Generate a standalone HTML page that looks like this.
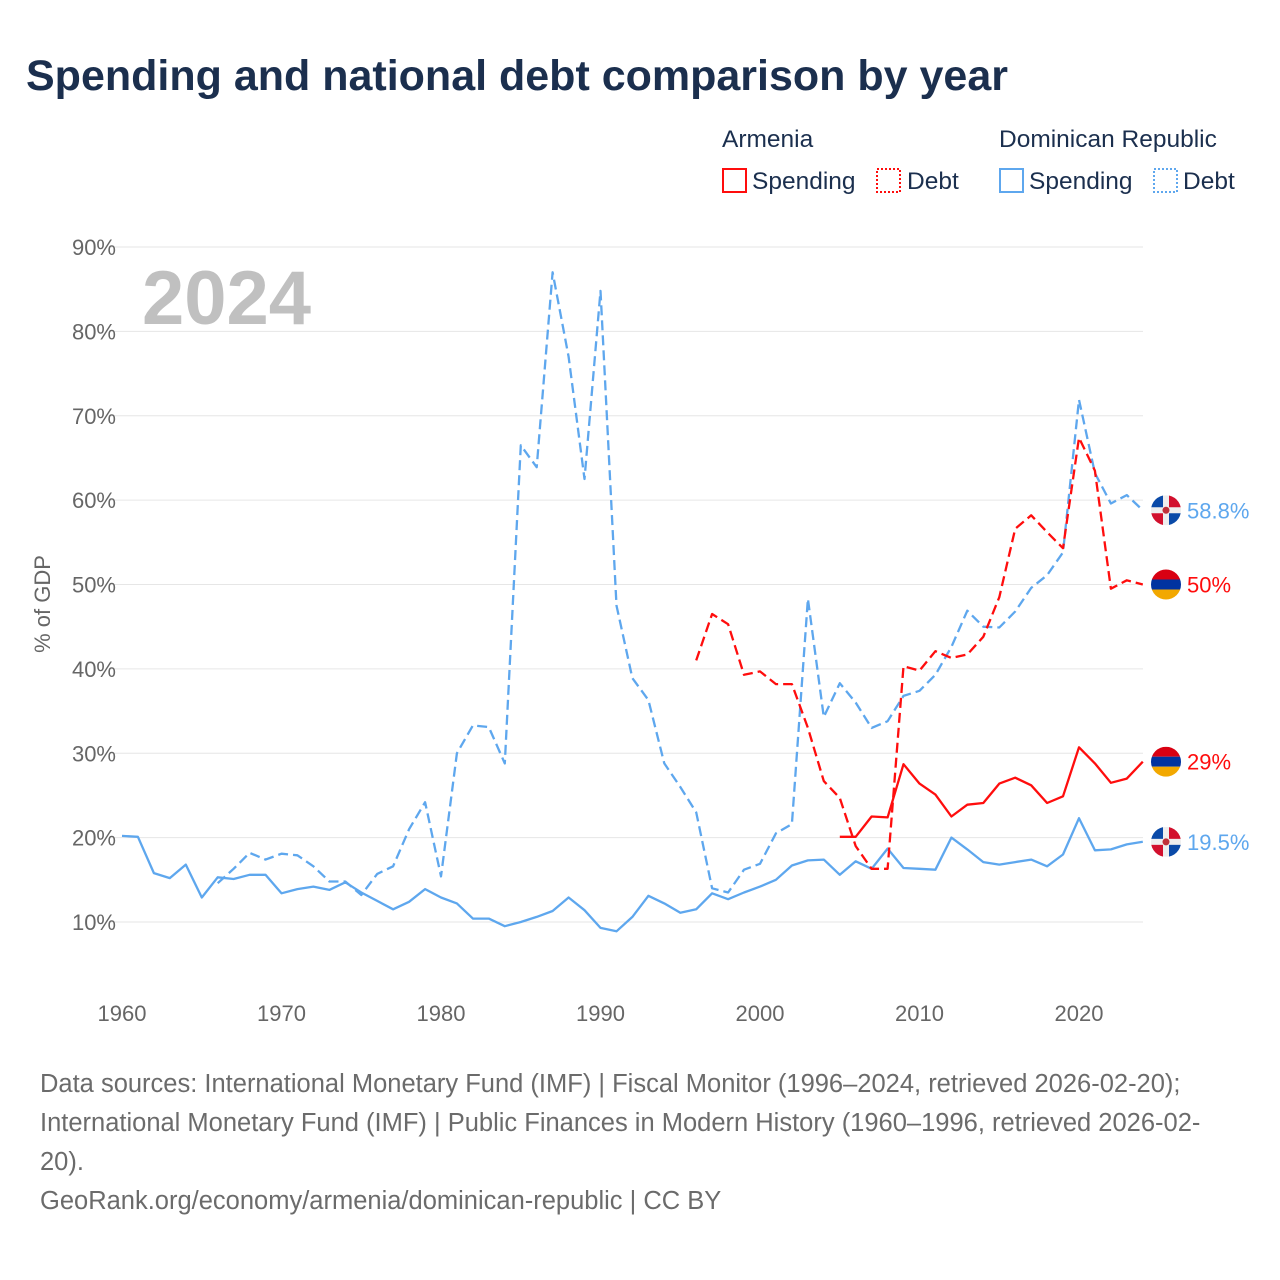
<!DOCTYPE html>
<html><head><meta charset="utf-8"><style>
body{margin:0;background:#fff;font-family:"Liberation Sans",sans-serif;}
#wrap{position:relative;width:1280px;height:1280px;overflow:hidden;}
.t{position:absolute;white-space:nowrap;}
</style></head><body>
<div id="wrap">
<div class="t" style="left:26px;top:52px;font-size:43px;font-weight:bold;color:#1b2f4e;">Spending and national debt comparison by year</div>
<svg id="chart" width="1280" height="1280" style="position:absolute;left:0;top:0"></svg>
<div class="t" style="left:40px;top:1065px;font-size:25.5px;line-height:39px;color:#6b6b6b;width:1195px;white-space:normal;">Data sources: International Monetary Fund (IMF) | Fiscal Monitor (1996–2024, retrieved 2026-02-20); International Monetary Fund (IMF) | Public Finances in Modern History (1960–1996, retrieved 2026-02-20).<br>GeoRank.org/economy/armenia/dominican-republic | CC BY</div>
</div>
<script>
const years = [];
for (let y = 1960; y <= 2024; y++) years.push(y);
const drSpending = [20.2,20.1,15.8,15.2,16.8,12.9,15.3,15.1,15.6,15.6,13.4,13.9,14.2,13.8,14.7,13.5,12.5,11.5,12.4,13.9,12.9,12.2,10.4,10.4,9.5,10.0,10.6,11.3,12.9,11.4,9.3,8.9,10.6,13.1,12.2,11.1,11.5,13.4,12.7,13.5,14.2,15.0,16.7,17.3,17.4,15.6,17.2,16.3,18.7,16.4,16.3,16.2,20.0,18.6,17.1,16.8,17.1,17.4,16.6,18.0,22.3,18.5,18.6,19.2,19.5];
const drDebtStart = 1966;
const drDebt = [14.6,16.3,18.2,17.4,18.1,17.9,16.6,14.8,14.8,13.2,15.7,16.6,21.0,24.2,15.4,30.0,33.3,33.1,28.8,66.5,63.9,87.0,77.0,62.5,84.8,47.5,38.9,36.3,28.8,26.0,23.0,14.0,13.5,16.2,16.9,20.5,21.6,48.3,34.3,38.3,36.0,33.0,33.8,36.8,37.4,39.3,42.6,46.9,45.0,44.9,46.8,49.6,51.1,53.8,71.9,63.2,59.6,60.6,58.8];
const amDebtStart = 1996;
const amDebt = [41.0,46.5,45.3,39.3,39.7,38.2,38.2,33.0,26.7,24.7,19.0,16.3,16.3,40.3,39.8,42.1,41.3,41.7,43.8,48.5,56.6,58.2,56.2,54.3,67.4,63.5,49.5,50.5,50.0];
const amSpendStart = 2005;
const amSpending = [20.1,20.1,22.5,22.4,28.7,26.4,25.1,22.5,23.9,24.1,26.4,27.1,26.2,24.1,24.9,30.7,28.8,26.5,27.0,29.0];
const yTicks = [10,20,30,40,50,60,70,80,90];
const xTicks = [1960,1970,1980,1990,2000,2010,2020];

const RED = "#ff0d0d", BLUE = "#5ea7ee";
const svg = document.getElementById('chart');
const NS = "http://www.w3.org/2000/svg";
const X = yr => 122 + (yr - 1960) * 15.95;
const Y = v => 247 + (90 - v) * 8.4375;
function mk(tag, attrs, parent){const e=document.createElementNS(NS,tag);for(const k in attrs)e.setAttribute(k,attrs[k]);(parent||svg).appendChild(e);return e;}

yTicks.forEach(t=>{
  const g=mk('line',{x1:110,x2:1143,y1:Y(t),y2:Y(t),stroke:'#e6e6e6','stroke-width':1});
  
  
  const tx=mk('text',{x:116,y:Y(t)+8,'text-anchor':'end','font-size':22,fill:'#666','font-family':'Liberation Sans, sans-serif'});
  tx.textContent=t+'%';
  
  
});
xTicks.forEach(t=>{
  const tx=mk('text',{x:X(t),y:1021,'text-anchor':'middle','font-size':22,fill:'#666','font-family':'Liberation Sans, sans-serif'});
  tx.textContent=t;
  
  
});
const yt=mk('text',{x:0,y:0,transform:'translate(50,604) rotate(-90)','text-anchor':'middle','font-size':22,fill:'#666','font-family':'Liberation Sans, sans-serif'});
yt.textContent='% of GDP';


const yr=mk('text',{x:142,y:324,'font-size':76,'font-weight':'bold',fill:'#c0c0c0','font-family':'Liberation Sans, sans-serif'});
yr.textContent='2024';



function line(vals,start,color,dash,name){
  const pts=vals.map((v,i)=>X(start+i).toFixed(1)+','+Y(v).toFixed(1)).join(' ');
  const p=mk('polyline',{points:pts,fill:'none',stroke:color,'stroke-width':2.3,'stroke-linejoin':'round'});
  if(dash)p.setAttribute('stroke-dasharray','10,5');
  
  
}
line(drSpending,1960,BLUE,false,'dr-spending-line');
line(drDebt,drDebtStart,BLUE,true,'dr-debt-line');
line(amDebt,amDebtStart,RED,true,'armenia-debt-line');
line(amSpending,amSpendStart,RED,false,'armenia-spending-line');

function flagAM(cy,name){
  const g=mk('g',{});
  
  
  const cid='c'+Math.round(cy);
  const cp=mk('clipPath',{id:cid},g);mk('circle',{cx:1166,cy:cy,r:15},cp);
  const gg=mk('g',{'clip-path':'url(#'+cid+')'},g);
  mk('rect',{x:1151,y:cy-15,width:30,height:10,fill:'#d90012'},gg);
  mk('rect',{x:1151,y:cy-5,width:30,height:10,fill:'#0033a0'},gg);
  mk('rect',{x:1151,y:cy+5,width:30,height:10,fill:'#f2a800'},gg);
}
function flagDR(cy,name){
  const g=mk('g',{});
  
  
  const cid='d'+Math.round(cy);
  const cp=mk('clipPath',{id:cid},g);mk('circle',{cx:1166,cy:cy,r:15},cp);
  const gg=mk('g',{'clip-path':'url(#'+cid+')'},g);
  mk('rect',{x:1151,y:cy-15,width:30,height:30,fill:'#eee'},gg);
  mk('rect',{x:1151,y:cy-15,width:12,height:12,fill:'#0a4aa8'},gg);
  mk('rect',{x:1169,y:cy-15,width:12,height:12,fill:'#d2102d'},gg);
  mk('rect',{x:1151,y:cy+3,width:12,height:12,fill:'#d2102d'},gg);
  mk('rect',{x:1169,y:cy+3,width:12,height:12,fill:'#0a4aa8'},gg);
  mk('circle',{cx:1166,cy:cy,r:3.5,fill:'#c0303a'},gg);
}
function endLabel(v,color,txt,name){
  const t=mk('text',{x:1187,y:Y(v)+8,'font-size':22,fill:color,'font-family':'Liberation Sans, sans-serif'});
  t.textContent=txt;
  
  
}
const drDebtLast=drDebt[drDebt.length-1], amDebtLast=amDebt[amDebt.length-1];
const amSpLast=amSpending[amSpending.length-1], drSpLast=drSpending[drSpending.length-1];
flagDR(Y(drDebtLast),'dr-debt-flag'); endLabel(drDebtLast,BLUE,drDebtLast+'%','dr-debt-end-label');
flagAM(Y(amDebtLast),'armenia-debt-flag'); endLabel(amDebtLast,RED,amDebtLast+'%','armenia-debt-end-label');
flagAM(Y(amSpLast),'armenia-spending-flag'); endLabel(amSpLast,RED,amSpLast+'%','armenia-spending-end-label');
flagDR(Y(drSpLast),'dr-spending-flag'); endLabel(drSpLast,BLUE,drSpLast+'%','dr-spending-end-label');

function ltext(x,y,s,name){const t=mk('text',{x:x,y:y,'font-size':24.5,fill:'#1b2f4e','font-family':'Liberation Sans, sans-serif'});t.textContent=s;}
ltext(722,147,'Armenia','legend-armenia-title');
ltext(999,147,'Dominican Republic','legend-dr-title');
function lbox(x,color,dotted,name){const r=mk('rect',{x:x,y:169,width:23,height:23,fill:'none',stroke:color,'stroke-width':2});if(dotted)r.setAttribute('stroke-dasharray','2,2');}
lbox(723,RED,false,'legend-armenia-spending-swatch'); ltext(752,189,'Spending','legend-armenia-spending');
lbox(877,RED,true,'legend-armenia-debt-swatch'); ltext(907,189,'Debt','legend-armenia-debt');
lbox(1000,BLUE,false,'legend-dr-spending-swatch'); ltext(1029,189,'Spending','legend-dr-spending');
lbox(1154,BLUE,true,'legend-dr-debt-swatch'); ltext(1183,189,'Debt','legend-dr-debt');
</script>
</body></html>
